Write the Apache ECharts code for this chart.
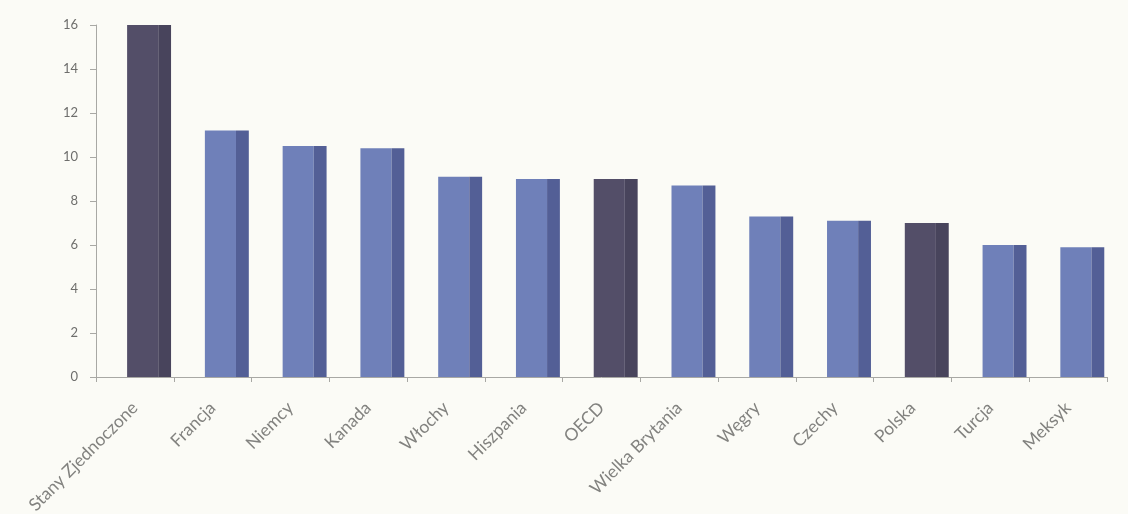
<!DOCTYPE html>
<html>
<head>
<meta charset="utf-8">
<script src="https://cdn.jsdelivr.net/npm/echarts@6/dist/echarts.min.js"></script>
<style>
html,body{margin:0;padding:0;background:#fbfbf6;}
#chart{width:1128px;height:514px;}
</style>
</head>
<body>
<div id="chart"></div>
<script>
var categories = ['Stany Zjednoczone','Francja','Niemcy','Kanada','Włochy','Hiszpania','OECD','Wielka Brytania','Węgry','Czechy','Polska','Turcja','Meksyk'];
var values = [16.0, 11.2, 10.5, 10.4, 9.1, 9.0, 9.0, 8.7, 7.3, 7.1, 7.0, 6.0, 5.9];
var highlighted = ['Stany Zjednoczone','OECD','Polska'];
var yTicks = [0, 2, 4, 6, 8, 10, 12, 14, 16];

var chart = echarts.init(document.getElementById('chart'));
chart.setOption({
  backgroundColor: '#fbfbf6',
  animation: false,
  grid: {left: 96, right: 21, top: 25, bottom: 137, outerBoundsMode: 'none', containLabel: false},
  xAxis: {
    type: 'category',
    data: categories,
    boundaryGap: true,
    axisLine: {lineStyle: {color: '#a8a8a4', width: 1}},
    axisTick: {show: true, length: 5, lineStyle: {color: '#a8a8a4'}},
    axisLabel: {rotate: 45, margin: 28, color: '#82827f', fontSize: 17.5, fontFamily: 'Lato', interval: 0}
  },
  yAxis: {
    type: 'value',
    min: yTicks[0],
    max: yTicks[yTicks.length - 1],
    interval: 2,
    splitLine: {show: false},
    axisLine: {show: true, lineStyle: {color: '#a8a8a4', width: 1}},
    axisTick: {show: true, length: 6, lineStyle: {color: '#a8a8a4'}},
    axisLabel: {color: '#6e6e6c', fontSize: 13, fontFamily: 'Lato', margin: 18}
  },
  series: [{
    type: 'custom',
    data: values.map(function (v, i) { return [i, v]; }),
    encode: {x: 0, y: 1},
    renderItem: function (params, api) {
      var idx = api.value(0);
      var top = api.coord([idx, api.value(1)]);
      var base = api.coord([idx, 0]);
      var catW = api.size([1, 0])[0];
      var left = base[0] - catW / 2 + catW * 0.40;
      var mainW = catW * 0.40;
      var sideW = catW * 0.165;
      var dark = highlighted.indexOf(categories[idx]) >= 0;
      var faceColor = dark ? '#534e68' : '#6f80b9';
      var sideColor = dark ? '#48445c' : '#535f96';
      return {
        type: 'group',
        children: [
          {type: 'rect', shape: {x: left, y: top[1], width: mainW, height: base[1] - top[1]}, style: {fill: faceColor}},
          {type: 'rect', shape: {x: left + mainW, y: top[1], width: sideW, height: base[1] - top[1]}, style: {fill: sideColor}}
        ]
      };
    }
  }]
});
</script>
</body>
</html>
